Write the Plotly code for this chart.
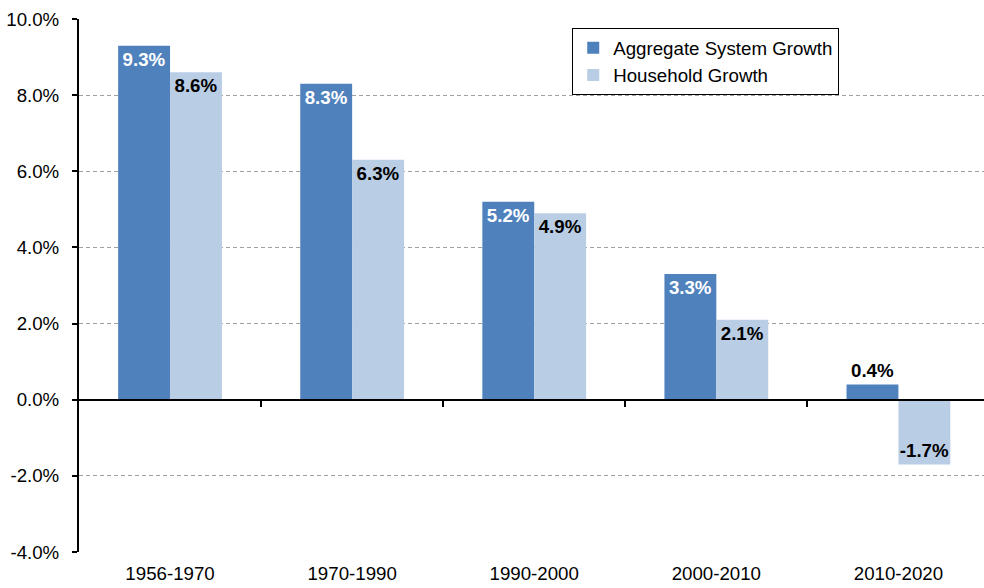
import plotly.graph_objects as go

categories = ["1956-1970", "1970-1990", "1990-2000", "2000-2010", "2010-2020"]
aggregate = [9.3, 8.3, 5.2, 3.3, 0.4]
household = [8.6, 6.3, 4.9, 2.1, -1.7]
y_ticks = [-4, -2, 0, 2, 4, 6, 8, 10]
y_tick_labels = ["-4.0%", "-2.0%", "0.0%", "2.0%", "4.0%", "6.0%", "8.0%", "10.0%"]

xs = list(range(len(categories)))
FONT = "Liberation Sans, Arial, sans-serif"
FS = 18.7

agg_pos = ["outside" if v < 1 else "inside" for v in aggregate]
agg_col = ["black" if v < 1 else "white" for v in aggregate]

fig = go.Figure()
fig.add_trace(go.Bar(
    x=xs, y=aggregate, name="Aggregate System Growth",
    marker=dict(color="#4F81BD", line=dict(width=0)),
    text=[f"{v:.1f}%" for v in aggregate],
    textposition=agg_pos, insidetextanchor="end", textangle=0, constraintext="none",
    textfont=dict(family=FONT, size=FS, color=agg_col, weight="bold"),
    cliponaxis=False, hoverinfo="skip",
))
fig.add_trace(go.Bar(
    x=xs, y=household, name="Household Growth",
    marker=dict(color="#B9CDE5", line=dict(width=0)),
    text=[f"{v:.1f}%" for v in household],
    textposition="inside", insidetextanchor="end", textangle=0, constraintext="none",
    textfont=dict(family=FONT, size=FS, color="black", weight="bold"),
    hoverinfo="skip",
))
# helper trace for the zero-line axis
fig.add_trace(go.Scatter(x=[xs[0]], y=[0], xaxis="x2", mode="markers",
                         marker=dict(opacity=0), showlegend=False, hoverinfo="skip"))

y_min, y_max = -4, 10
fig.update_layout(
    width=984, height=588,
    margin=dict(l=79, r=0, t=19, b=36, autoexpand=False),
    paper_bgcolor="white", plot_bgcolor="white",
    barmode="group", bargap=0.43, bargroupgap=0,
    font=dict(family=FONT, size=FS, color="black"),
    showlegend=True, hovermode=False,
    legend=dict(x=0.545, y=0.983, xanchor="left", yanchor="top",
                bordercolor="black", borderwidth=1, bgcolor="white",
                font=dict(size=FS), tracegroupgap=0),
    xaxis=dict(range=[-0.5, 4.47], tickmode="array", tickvals=xs, ticktext=categories,
               showline=False, showgrid=False, zeroline=False, ticks="",
               automargin=False, ticklabelstandoff=8,
               tickfont=dict(size=FS)),
    xaxis2=dict(overlaying="x", matches="x", anchor="free",
                position=(0 - y_min) / (y_max - y_min),
                showline=True, linecolor="black", linewidth=2,
                tickmode="array", tickvals=[0.5, 1.5, 2.5, 3.5],
                ticks="outside", ticklen=6, tickwidth=2, tickcolor="black",
                automargin=False,
                showticklabels=False, showgrid=False, zeroline=False),
    yaxis=dict(range=[y_min, y_max], tickmode="array", tickvals=y_ticks,
               ticktext=y_tick_labels, showline=True, linecolor="black", linewidth=2,
               ticks="outside", ticklen=5, tickwidth=2, tickcolor="black",
               showgrid=True, gridcolor="#A0A0A0", griddash="4px,3px", gridwidth=1,
               zeroline=False, automargin=False, ticklabelstandoff=9,
               tickfont=dict(size=FS)),
)

fig.write_html("out.html", config={"displayModeBar": False},
               post_script="document.body.style.margin='0';")
